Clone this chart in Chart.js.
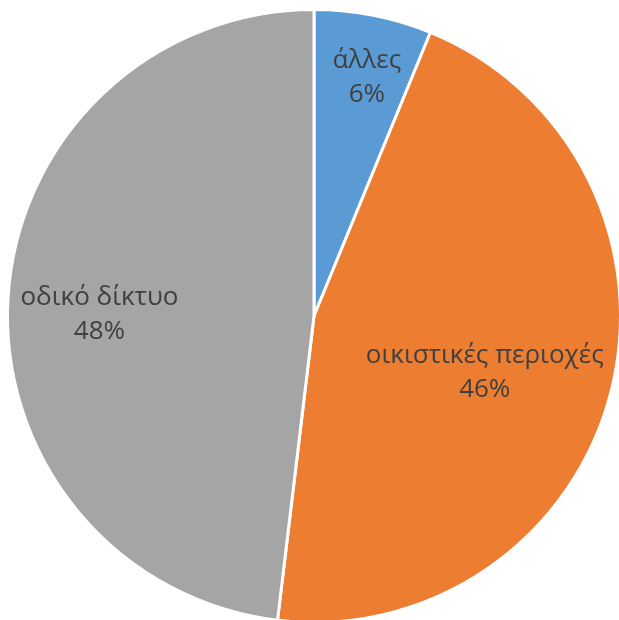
<!DOCTYPE html>
<html>
<head>
<meta charset="utf-8">
<script src="https://cdn.jsdelivr.net/npm/chart.js@4"></script>
<style>
  html, body { margin: 0; padding: 0; background: #fff; overflow: hidden; }
  #wrap { width: 619px; height: 620px; overflow: hidden; }
</style>
</head>
<body>
<div id="wrap"><canvas id="pieChart" width="630" height="630"></canvas></div>
<script>
// chart data
const categories = ['άλλες', 'οικιστικές περιοχές', 'οδικό δίκτυο'];
const shares = [6.2, 45.7, 48.1];
const pctLabels = ['6%', '46%', '48%'];

const sliceColors = ['#5B9BD5', '#ED7D31', '#A5A5A5'];
// label placement inside each slice: fraction of radius, and a small angle nudge (deg)
const labelRadius = [0.80, 0.586, 0.70];
const labelTurn = [1.3, 3.5, -2.7];

// draws "category / percent" inside each slice, Excel style
const sliceLabels = {
  id: 'sliceLabels',
  afterDatasetsDraw(chart) {
    const ctx = chart.ctx;
    const meta = chart.getDatasetMeta(0);
    ctx.save();
    ctx.fillStyle = '#404040';
    ctx.font = '26px "Open Sans", "Noto Sans", sans-serif';
    ctx.textAlign = 'center';
    ctx.textBaseline = 'middle';
    meta.data.forEach((arc, i) => {
      const p = arc.getProps(['x', 'y', 'startAngle', 'endAngle', 'outerRadius'], true);
      const mid = (p.startAngle + p.endAngle) / 2 + labelTurn[i] * Math.PI / 180;
      const r = p.outerRadius * labelRadius[i];
      const x = p.x + Math.cos(mid) * r;
      const y = p.y + Math.sin(mid) * r;
      ctx.fillText(categories[i], x, y - 16);
      ctx.fillText(pctLabels[i], x, y + 18);
    });
    ctx.restore();
  }
};

new Chart(document.getElementById('pieChart'), {
  type: 'pie',
  data: {
    labels: categories,
    datasets: [{
      data: shares,
      backgroundColor: sliceColors,
      borderColor: '#ffffff',
      borderWidth: 3
    }]
  },
  options: {
    responsive: false,
    animation: false,
    layout: { padding: { left: 6, right: 8, top: 8, bottom: 6 } },
    plugins: {
      legend: { display: false },
      tooltip: { enabled: false }
    }
  },
  plugins: [sliceLabels]
});
</script>
</body>
</html>
